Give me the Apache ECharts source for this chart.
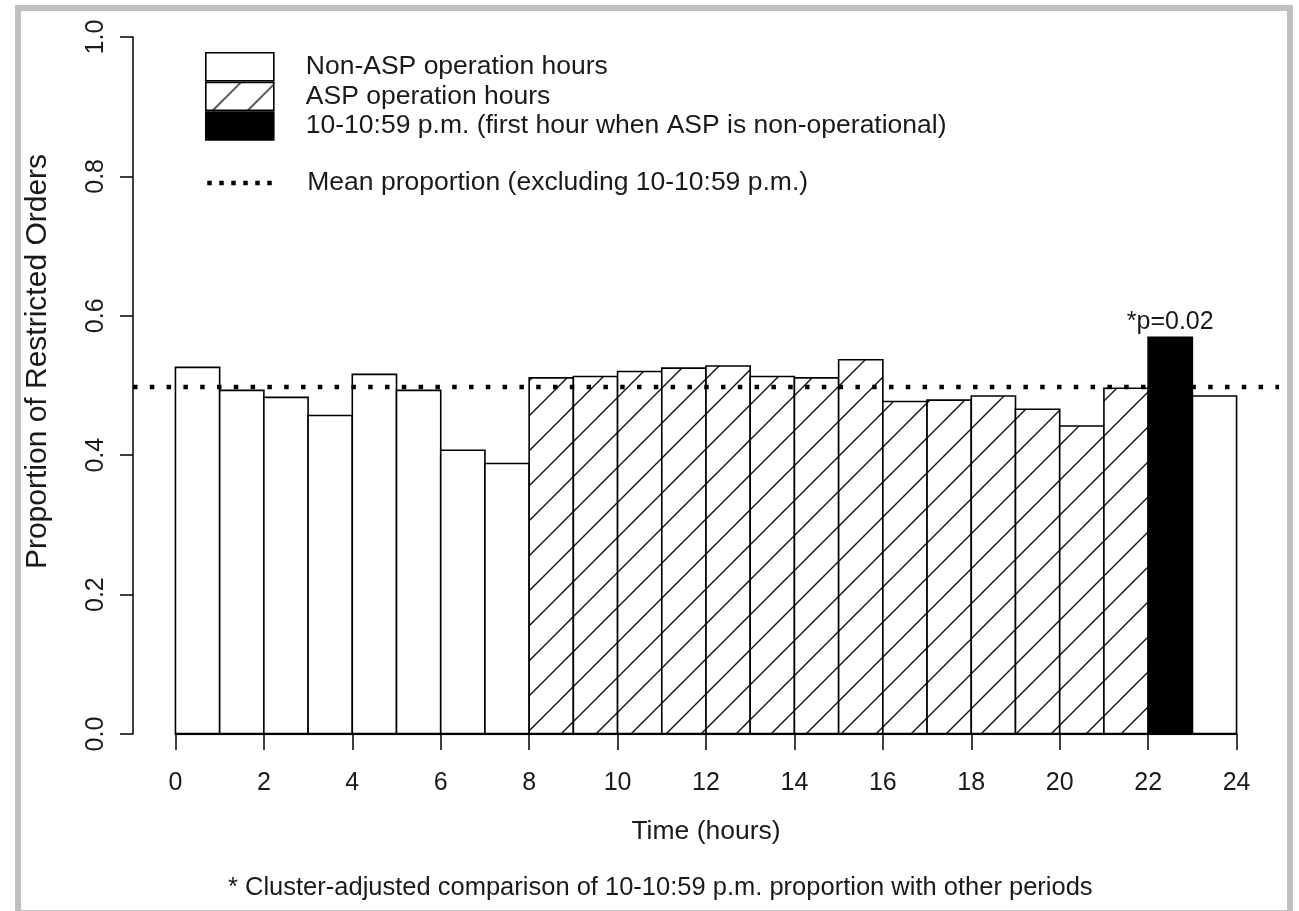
<!DOCTYPE html>
<html>
<head>
<meta charset="utf-8">
<script src="https://cdn.jsdelivr.net/npm/echarts@6/dist/echarts.min.js"></script>
<style>
  html, body { margin: 0; padding: 0; background: #fff; }
  #chart { width: 1299px; height: 911px; }
</style>
</head>
<body>
<div id="chart"></div>
<script>
// hour of day (bar start) and proportion of restricted orders
const hours = [0, 1, 2, 3, 4, 5, 6, 7, 8, 9, 10, 11, 12, 13, 14, 15, 16, 17, 18, 19, 20, 21, 22, 23]
const proportions = [0.526, 0.493, 0.483, 0.457, 0.516, 0.493, 0.407, 0.388,
  0.511, 0.513, 0.520, 0.525, 0.528, 0.513, 0.511, 0.537, 0.477, 0.479, 0.485, 0.466, 0.442, 0.496,
  0.569, 0.485]
// non = non-ASP hours, asp = ASP hours, first = first hour ASP is off
const periods = ['non', 'non', 'non', 'non', 'non', 'non', 'non', 'non',
  'asp', 'asp', 'asp', 'asp', 'asp', 'asp', 'asp', 'asp', 'asp', 'asp', 'asp', 'asp', 'asp', 'asp',
  'first', 'non']
const meanProportion = 0.498
const xRange = [-0.96, 24.96]
const xTicks = [0, 2, 4, 6, 8, 10, 12, 14, 16, 18, 20, 22, 24]
const yTicks = [0, 0.2, 0.4, 0.6, 0.8, 1.0]
const seriesNames = {
  non: 'Non-ASP operation hours',
  asp: 'ASP operation hours',
  first: '10-10:59 p.m. (first hour when ASP is non-operational)'
}
const meanName = 'Mean proportion (excluding 10-10:59 p.m.)'
const pLabel = '*p=0.02'
const caption = '* Cluster-adjusted comparison of 10-10:59 p.m. proportion with other periods'

const FONT = '"Liberation Sans", Arial, sans-serif'
const INK = '#1a1a1a'

// diagonal hatch like R's density/angle=45
function hatch() {
  const s = 35
  const c = document.createElement('canvas')
  c.width = s
  c.height = s
  const ctx = c.getContext('2d')
  ctx.fillStyle = '#fff'
  ctx.fillRect(0, 0, s, s)
  ctx.strokeStyle = '#111'
  ctx.lineWidth = 1.4
  ctx.beginPath()
  ctx.moveTo(-2, s + 2); ctx.lineTo(s + 2, -2)
  ctx.moveTo(-2, 2); ctx.lineTo(2, -2)
  ctx.moveTo(s - 2, s + 2); ctx.lineTo(s + 2, s - 2)
  ctx.stroke()
  return { image: c, repeat: 'repeat' }
}
const hatchFill = hatch()
const fills = { non: '#fff', asp: hatchFill, first: '#000' }

function pick(kind) {
  const out = []
  hours.forEach((h, i) => { if (periods[i] === kind) out.push([h, proportions[i]]) })
  return out
}

function barRenderer(withLabel) {
  return function (params, api) {
    const h = api.value(0), v = api.value(1)
    const p0 = api.coord([h, v])
    const p1 = api.coord([h + 1, 0])
    const rect = {
      type: 'rect',
      shape: { x: p0[0], y: p0[1], width: p1[0] - p0[0], height: p1[1] - p0[1] },
      style: Object.assign(api.style(), { stroke: '#000', lineWidth: 1.6 })
    }
    if (!withLabel) return rect
    return {
      type: 'group',
      children: [rect, {
        type: 'text',
        style: {
          text: pLabel, x: (p0[0] + p1[0]) / 2, y: p0[1] - 3,
          align: 'center', verticalAlign: 'bottom',
          font: '25px ' + FONT, fill: INK
        }
      }]
    }
  }
}

const chart = echarts.init(document.getElementById('chart'))

const barSeries = ['non', 'asp', 'first'].map(k => ({
  name: seriesNames[k],
  type: 'custom',
  renderItem: barRenderer(k === 'first'),
  itemStyle: { color: fills[k] },
  encode: { x: 0, y: 1 },
  data: pick(k),
  silent: true
}))

const dotted = { color: '#000', width: 4.5, type: [4.5, 12.3], cap: 'butt' }
const legendText = { fontSize: 26.5, fontFamily: FONT, color: INK, lineHeight: 28, padding: [0, 0, 0, 27] }

chart.setOption({
  animation: false,
  backgroundColor: '#fff',
  grid: { left: 133, right: 20, top: 37, bottom: 177 },
  xAxis: {
    type: 'value',
    min: xRange[0],
    max: xRange[1],
    axisLine: { show: false },
    splitLine: { show: false },
    axisTick: { show: true, customValues: xTicks, length: 16, lineStyle: { color: '#000', width: 1.5 } },
    axisLabel: { customValues: xTicks, fontSize: 25, fontFamily: FONT, color: INK, margin: 37 },
    name: 'Time (hours)',
    nameLocation: 'middle',
    nameGap: 84,
    nameTextStyle: { fontSize: 26.5, fontFamily: FONT, color: INK }
  },
  yAxis: {
    type: 'value',
    min: 0,
    max: 1,
    interval: 0.2,
    axisLine: { show: true, onZero: false, lineStyle: { color: '#000', width: 1.5 } },
    splitLine: { show: false },
    axisTick: { show: true, customValues: yTicks, length: 13, lineStyle: { color: '#000', width: 1.5 } },
    axisLabel: {
      customValues: yTicks, rotate: 90, fontSize: 25, fontFamily: FONT, color: INK, margin: 24,
      formatter: v => v.toFixed(1)
    },
    name: 'Proportion of Restricted Orders',
    nameLocation: 'middle',
    nameRotate: 90,
    nameGap: 80,
    nameTextStyle: { fontSize: 30, fontFamily: FONT, color: INK, padding: [0, 0, 0, 48] }
  },
  legend: [{
    orient: 'vertical',
    left: 205,
    top: 52,
    padding: 0,
    itemGap: 0,
    itemWidth: 68,
    itemHeight: 28,
    selectedMode: false,
    textStyle: legendText,
    data: ['non', 'asp', 'first'].map(k => ({
      name: seriesNames[k],
      icon: 'rect',
      itemStyle: { color: fills[k], borderColor: '#000', borderWidth: 1.6 }
    }))
  }, {
    orient: 'vertical',
    left: 205,
    top: 169,
    padding: 0,
    itemWidth: 68,
    itemHeight: 28,
    selectedMode: false,
    textStyle: legendText,
    data: [{
      name: meanName,
      itemStyle: { color: 'rgba(0,0,0,0)', borderWidth: 0 },
      lineStyle: { color: '#000', width: 4.5, type: [4.5, 7.5], cap: 'butt' }
    }]
  }],
  title: {
    text: caption,
    left: 228,
    top: 875,
    padding: 0,
    textStyle: { fontSize: 25.5, fontFamily: FONT, color: INK, fontWeight: 'normal' }
  },
  graphic: [{
    type: 'rect',
    shape: { x: 18, y: 8, width: 1272, height: 905 },
    style: { fill: 'none', stroke: '#c0c0c0', lineWidth: 6 },
    silent: true,
    z: 100
  }],
  series: barSeries.concat([{
    name: meanName,
    type: 'line',
    symbol: 'none',
    silent: true,
    itemStyle: { color: '#000' },
    lineStyle: dotted,
    data: [[xRange[0], meanProportion], [xRange[1], meanProportion]],
    z: 5
  }, {
    name: 'baseline',
    type: 'line',
    symbol: 'none',
    silent: true,
    lineStyle: { color: '#000', width: 2.5 },
    data: [[hours[0], 0], [hours[hours.length - 1] + 1, 0]],
    z: 6
  }])
})

window.addEventListener('resize', () => {
  chart.resize()
})
</script>
</body>
</html>
